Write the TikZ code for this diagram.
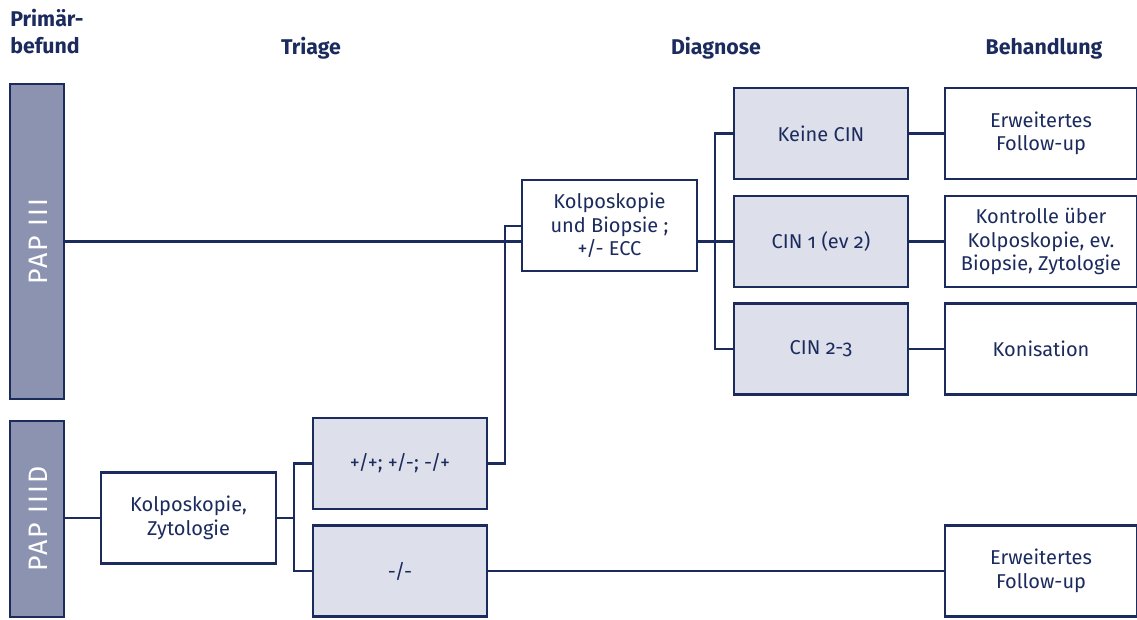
\documentclass[tikz,border=0pt]{standalone}
\usepackage{fontspec}
\setmainfont{Fira Sans}[Numbers=OldStyle]
\newfontfamily\papfont{Fira Sans}[LetterSpace=8]
\definecolor{navy}{HTML}{1C2B5E}
\definecolor{papfill}{HTML}{8B93B0}
\definecolor{lightfill}{HTML}{DDE0EA}
\begin{document}
\begin{tikzpicture}[x=0.75pt,y=-0.75pt,
  every node/.style={font=\fontsize{15pt}{17.6pt}\selectfont, text=navy, align=center, inner sep=0pt},
  base/.style={draw=navy, line width=1.8pt, rectangle},
  pap/.style={base, fill=papfill, minimum width=40.5pt, text=white},
  paptext/.style={rotate=90, text=white, font=\papfont\fontsize{20pt}{24pt}\selectfont},
  wbox/.style={base, fill=white, minimum width=131.25pt, minimum height=68pt},
  gbox/.style={base, fill=lightfill, minimum width=130.5pt, minimum height=68pt},
  tbox/.style={base, fill=white, minimum width=144pt, minimum height=68pt},
  head/.style={anchor=base, font=\bfseries\fontsize{16pt}{20pt}\selectfont},
  conn/.style={draw=navy, line width=1.8pt}]
\useasboundingbox (0,0) rectangle (1137,619);
% headers
\node[head, anchor=base west] (h1a) at (10,26) {Primär-};
\node[head, anchor=base west] (h1b) at (10,53) {befund};
\node[head] (h2) at (311,54) {Triage};
\node[head] (h3) at (716,54) {Diagnose};
\node[head] (h4) at (1044,54) {Behandlung};
% primary
\node[pap, minimum height=236.25pt] (p3) at (37,241.5) {};
\node[paptext] (p3t) at (38,241.5) {PAP III};
\node[pap, minimum height=147pt] (p3d) at (37,519) {};
\node[paptext] (p3dt) at (38,519) {PAP IIID};
% triage
\node[wbox] (kz) at (188.5,518) {Kolposkopie,\\Zytologie};
\node[gbox] (pp) at (400,463.5) {+/+; +/-; -/+};
\node[gbox] (mm) at (400,571) {-/-};
% diagnose
\node[wbox] (kb) at (609.5,225.5) {Kolposkopie\\und Biopsie ;\\+/- ECC};
\node[gbox] (k0) at (821,133.5) {Keine CIN};
\node[gbox] (k1) at (821,241.5) {CIN 1 (ev 2)};
\node[gbox] (k2) at (821,349) {CIN 2-3};
% behandlung
\node[tbox] (b0) at (1041,133.5) {Erweitertes\\Follow-up};
\node[tbox] (b1) at (1041,241.5) {Kontrolle über\\Kolposkopie, ev.\\Biopsie, Zytologie};
\node[tbox] (b2) at (1041,349) {Konisation};
\node[tbox] (b3) at (1041,571) {Erweitertes\\Follow-up};
% connectors
\coordinate (j1) at (505,226);
\coordinate (j2) at (715,241.5);
\coordinate (j3) at (294,518);
\draw[conn] (p3.east |- k1.west) -- (kb.west |- k1.west);
\draw[conn] (pp.east) -| (j1) -- (kb.west |- j1);
\draw[conn] (kb.east |- k1.west) -- (k1.west);
\draw[conn] (k0.west) -| (j2) |- (k2.west);
\draw[conn] (k0.east) -- (b0.west);
\draw[conn] (k1.east) -- (b1.west);
\draw[conn] (k2.east) -- (b2.west);
\draw[conn] (p3d.east |- kz.west) -- (kz.west);
\draw[conn] (kz.east) -- (j3);
\draw[conn] (pp.west) -| (j3) |- (mm.west);
\draw[conn] (mm.east) -- (b3.west);
\end{tikzpicture}
\end{document}
